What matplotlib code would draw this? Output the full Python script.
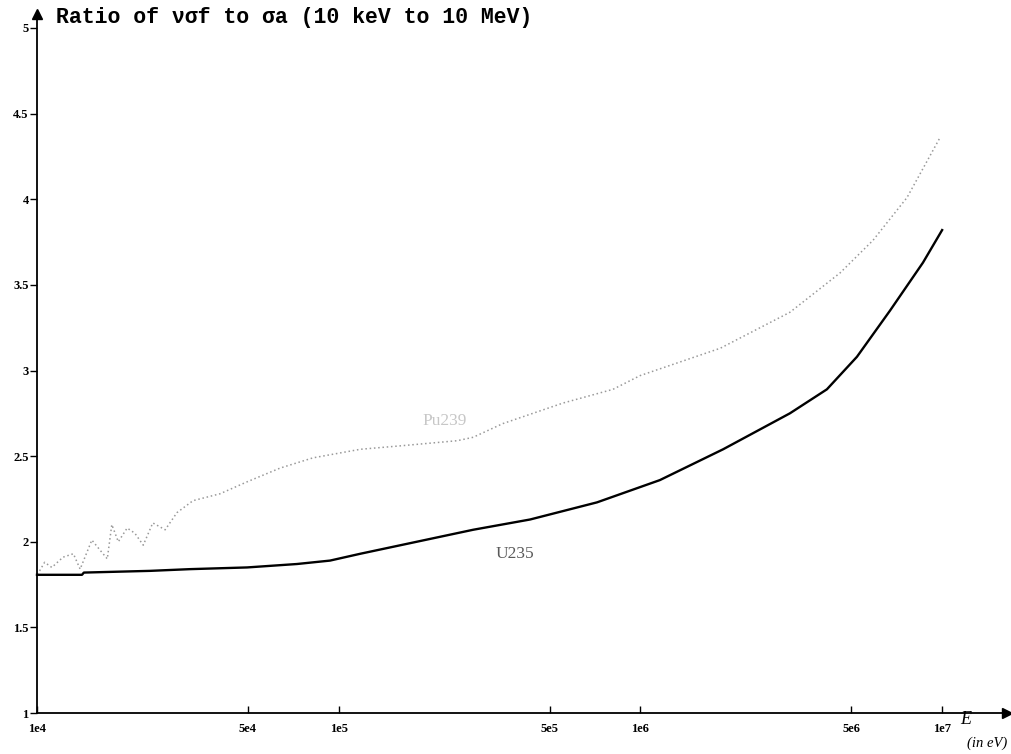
import matplotlib.pyplot as plt

# energies in eV, ratio nu*sigma_f / sigma_a
u235_E = [1.0e4, 1.41e4, 1.43e4, 2.37e4, 3.21e4, 4.97e4, 7.27e4, 9.36e4, 1.18e5,
          2.79e5, 4.31e5, 7.18e5, 1.16e6, 1.88e6, 3.13e6, 4.15e6, 5.22e6, 6.72e6,
          8.64e6, 1.0e7]
u235_r = [1.807, 1.807, 1.82, 1.83, 1.84, 1.85, 1.87, 1.89, 1.93,
          2.07, 2.13, 2.23, 2.36, 2.54, 2.75, 2.89, 3.08, 3.35,
          3.63, 3.82]

pu239_E = [1.0e4, 1.02e4, 1.06e4, 1.12e4, 1.22e4, 1.32e4, 1.39e4, 1.52e4, 1.62e4,
           1.71e4, 1.77e4, 1.86e4, 1.99e4, 2.11e4, 2.25e4, 2.42e4, 2.66e4, 2.91e4,
           3.29e4, 4.04e4, 4.97e4, 6.39e4, 8.22e4, 1.18e5, 1.60e5, 2.47e5, 2.79e5,
           3.50e5, 5.54e5, 8.11e5, 9.97e5, 1.84e6, 3.13e6, 4.59e6, 5.90e6, 7.65e6,
           9.84e6]
pu239_r = [1.81, 1.83, 1.88, 1.85, 1.91, 1.93, 1.84, 2.01, 1.95,
           1.90, 2.10, 2.00, 2.08, 2.05, 1.98, 2.11, 2.07, 2.17,
           2.24, 2.28, 2.35, 2.43, 2.49, 2.54, 2.56, 2.59, 2.61,
           2.69, 2.81, 2.89, 2.97, 3.13, 3.34, 3.57, 3.76, 4.01,
           4.36]

xticks = [1e4, 5e4, 1e5, 5e5, 1e6, 5e6, 1e7]
xtick_labels = ['1e4', '5e4', '1e5', '5e5', '1e6', '5e6', '1e7']
yticks = [1, 1.5, 2, 2.5, 3, 3.5, 4, 4.5, 5]
ytick_labels = ['1', '1.5', '2', '2.5', '3', '3.5', '4', '4.5', '5']

fig = plt.figure(figsize=(10.11, 7.54), dpi=100)
ax = fig.add_axes([0, 0, 1, 1])
ax.set_xscale('log')
ax.set_xlim(10**3.8774, 10**7.2283)
ax.set_ylim(0.7606, 5.1635)

ax.plot(pu239_E, pu239_r, color='0.6', lw=1.1, linestyle=(0, (1, 1.8)))
ax.plot(u235_E, u235_r, color='black', lw=1.7)

# axes with arrows
x_end = 10**7.215
y_end = 5.08
for s in ['top', 'right']:
    ax.spines[s].set_visible(False)
ax.spines['bottom'].set_position(('data', 1))
ax.spines['left'].set_position(('data', 1e4))
ax.spines['bottom'].set_bounds(1e4, x_end)
ax.spines['left'].set_bounds(1, y_end)
ax.spines['bottom'].set_linewidth(1.3)
ax.spines['left'].set_linewidth(1.3)
ax.plot([x_end], [1], marker='>', color='black', ms=7, clip_on=False)
ax.plot([1e4], [y_end], marker='^', color='black', ms=7, clip_on=False)

ax.set_xticks(xticks)
ax.set_xticklabels(xtick_labels)
ax.xaxis.set_minor_locator(plt.NullLocator())
ax.set_yticks(yticks)
ax.set_yticklabels(ytick_labels)
ax.tick_params(axis='x', direction='in', length=5, width=1, pad=7)
ax.tick_params(axis='y', direction='out', length=5, width=1, pad=1)
for lab in ax.get_xticklabels() + ax.get_yticklabels():
    lab.set_fontfamily('Liberation Serif')
    lab.set_fontweight('bold')
    lab.set_fontsize(9)

fig.text(56 / 1011, 1 - 17 / 754, 'Ratio of νσf to σa (10 keV to 10 MeV)',
         family='Liberation Mono', weight='bold', fontsize=15.5, va='center', ha='left')

ax.text(3.84e5, 1.93, 'U235', family='Liberation Serif', fontsize=12.5,
        color='0.35', ha='center', va='center')
ax.text(2.25e5, 2.705, 'Pu239', family='Liberation Serif', fontsize=12.5,
        color='0.78', ha='center', va='center')

fig.text(966 / 1011, 1 - 720 / 754, 'E', family='Liberation Serif', style='italic',
         fontsize=13, ha='center', va='center')
fig.text(987 / 1011, 1 - 743 / 754, '(in eV)', family='Liberation Serif', style='italic',
         fontsize=10.5, ha='center', va='center')

fig.savefig('out.png', dpi=100)
